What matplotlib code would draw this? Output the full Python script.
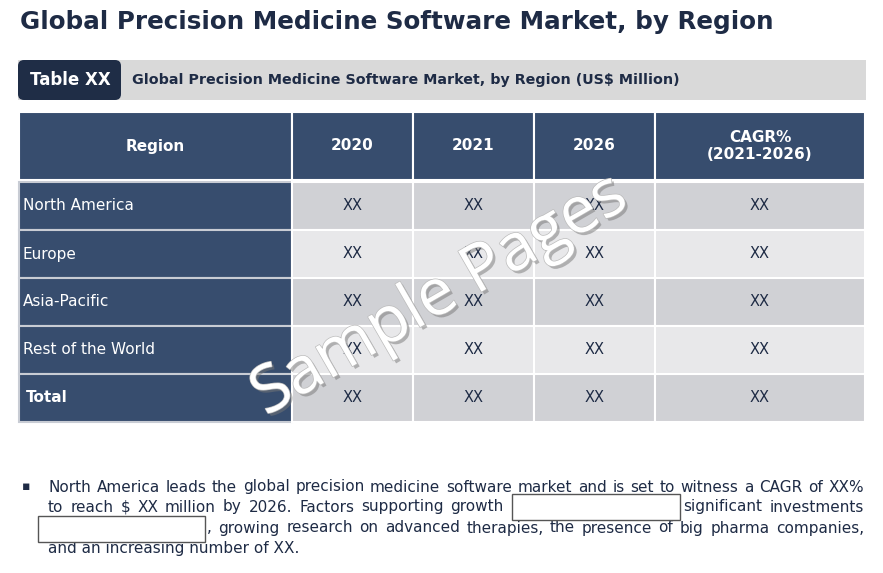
import matplotlib.pyplot as plt
from matplotlib.patches import Rectangle, FancyBboxPatch
import matplotlib.patheffects as pe

# Data
title = "Global Precision Medicine Software Market, by Region"
table_tag = "Table XX"
table_caption = "Global Precision Medicine Software Market, by Region (US$ Million)"
headers = ["Region", "2020", "2021", "2026", "CAGR%\n(2021-2026)"]
regions = ["North America", "Europe", "Asia-Pacific", "Rest of the World", "Total"]
values = [
    ["XX", "XX", "XX", "XX"],
    ["XX", "XX", "XX", "XX"],
    ["XX", "XX", "XX", "XX"],
    ["XX", "XX", "XX", "XX"],
    ["XX", "XX", "XX", "XX"],
]
note_line1 = "North America leads the global precision medicine software market and is set to witness a CAGR of XX%"
note_line2a = "to reach $ XX million by 2026. Factors supporting growth i"
note_line2b = "significant investments"
note_line3 = ", growing research on advanced therapies, the presence of big pharma companies,"
note_line4 = "and an increasing number of XX."

# Style
NAVY = "#1E2B45"
HEAD = "#374D6E"
DARK_ROW = "#D0D1D5"
LIGHT_ROW = "#E8E8EA"
BANNER = "#D9D9D9"
FONT = "DejaVu Sans"

col_edges = [19, 292, 413, 534, 655, 865]
head_top, head_bot = 112, 180
row_top = 182
row_h = 48

fig = plt.figure(figsize=(8.83, 5.73), dpi=100)
ax = fig.add_axes([0, 0, 1, 1])
ax.set_xlim(0, 883)
ax.set_ylim(573, 0)
ax.axis("off")

ax.text(20, 22, title, fontsize=17.7, fontweight="bold", color=NAVY,
        va="center", ha="left", family=FONT)

# banner
ax.add_patch(Rectangle((18, 60), 848, 40, color=BANNER, lw=0))
ax.add_patch(FancyBboxPatch((22, 64), 95, 32, boxstyle="round,pad=4,rounding_size=6",
                            fc="#1F2D46", ec="none"))
ax.text(70, 80, table_tag, fontsize=12, fontweight="bold", color="white",
        ha="center", va="center", family=FONT)
ax.text(132, 80, table_caption, fontsize=10.3, fontweight="bold", color=NAVY,
        ha="left", va="center", family=FONT)

# header row
for i, h in enumerate(headers):
    x0, x1 = col_edges[i], col_edges[i + 1]
    ax.add_patch(Rectangle((x0, head_top), x1 - x0, head_bot - head_top,
                           fc=HEAD, ec="white", lw=1.5))
    ax.text((x0 + x1) / 2, (head_top + head_bot) / 2, h, fontsize=11,
            fontweight="bold", color="white", ha="center", va="center",
            family=FONT, linespacing=1.1)

# body rows
for r, reg in enumerate(regions):
    y0 = row_top + r * row_h
    ax.add_patch(Rectangle((col_edges[0], y0), col_edges[1] - col_edges[0], row_h,
                           fc=HEAD, ec="#C8CCD4", lw=1.5))
    bold = reg == "Total"
    ax.text(col_edges[0] + (7 if bold else 4), y0 + row_h / 2, reg, fontsize=11,
            fontweight="bold" if bold else "normal", color="white",
            ha="left", va="center", family=FONT)
    fill = DARK_ROW if r % 2 == 0 else LIGHT_ROW
    for c, v in enumerate(values[r]):
        x0, x1 = col_edges[c + 1], col_edges[c + 2]
        ax.add_patch(Rectangle((x0, y0), x1 - x0, row_h, fc=fill, ec="white", lw=1.5))
        ax.text((x0 + x1) / 2, y0 + row_h / 2, v, fontsize=10.5, color=NAVY,
                ha="center", va="center", family=FONT)

# watermark
ax.text(440, 296, "Sample Pages", fontsize=47, rotation=30, rotation_mode="anchor",
        ha="center", va="center", color="white", family="Open Sans", zorder=5,
        path_effects=[pe.withSimplePatchShadow(offset=(2, -2), shadow_rgbFace="#777777", alpha=0.5),
                      pe.Stroke(linewidth=1, foreground="#BBBBBB"), pe.Normal()])

# note (justified lines)
fig.canvas.draw()
renderer = fig.canvas.get_renderer()


def justify(text, y, x0, x1, size):
    words = text.split(" ")
    objs = [ax.text(0, y, w, fontsize=size, color=NAVY, va="center", ha="left",
                    family=FONT) for w in words]
    widths = [o.get_window_extent(renderer).width for o in objs]
    gap = (x1 - x0 - sum(widths)) / max(len(words) - 1, 1)
    x = x0
    for o, w in zip(objs, widths):
        o.set_x(x)
        x += w + gap


NOTE_SIZE = 11
ax.text(22, 487, "\u25aa", fontsize=9, color=NAVY, va="center", ha="left", family=FONT)
justify(note_line1, 487, 48, 864, NOTE_SIZE)
justify(note_line2a, 507, 48, 515, NOTE_SIZE)
justify(note_line2b, 507, 683, 864, NOTE_SIZE)
justify(note_line3, 528, 207, 864, NOTE_SIZE)
ax.text(48, 548, note_line4, fontsize=NOTE_SIZE, color=NAVY, va="center", ha="left",
        family=FONT)

ax.add_patch(Rectangle((512, 494), 168, 26, fc="white", ec="#555555", lw=1, zorder=6))
ax.add_patch(Rectangle((38, 516), 167, 26, fc="white", ec="#555555", lw=1, zorder=6))

fig.savefig("out.png", dpi=100)
